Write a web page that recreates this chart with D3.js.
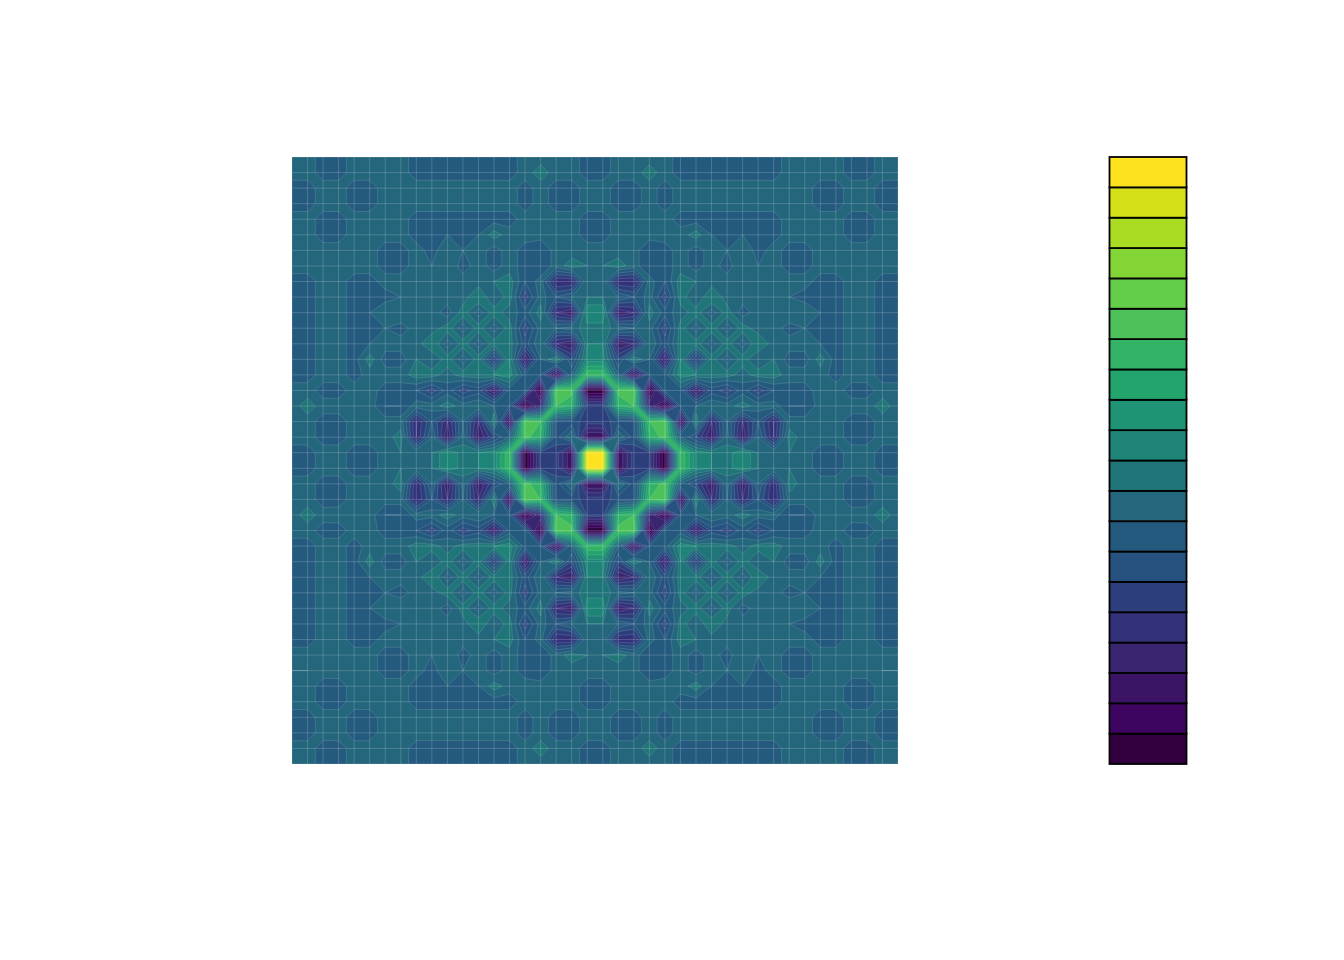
<!DOCTYPE html>
<html>
<head>
<meta charset="utf-8">
<script src="https://cdn.jsdelivr.net/npm/d3@7"></script>
<style>html,body{margin:0;padding:0;background:#fff}svg{display:block}</style>
</head>
<body>
<svg id="chart" width="1344" height="960"></svg>
<script>
const bandColors = ["#320040","#3e0560","#3b1466","#3a2570","#33317a","#2c3f7c","#27527f","#245a7e","#24667c","#1f7578","#1d8477","#1f9474","#23a46c","#33b365","#4dc25a","#64cd4a","#82d535","#aadc24","#d5e019","#fde31f"];
const levelBreaks = [2,4,6,8,10,12,14,16,18,20,22,24,26,28,30,32,34,36,38,40,42];
const gridValues = [
19,19,17,17,19,19,18,19,17,17,17,17,17,17,17,19,19,19,19,17,17,19,19,19,19,17,17,17,17,17,17,17,19,18,19,19,17,17,19,19,
19,19,17,17,19,19,18,19,17,17,17,17,17,17,17,19,21,19,19,17,17,19,19,21,19,17,17,17,17,17,17,17,19,18,19,19,17,17,19,19,
17,17,19,19,17,17,19,19,19,19,19,19,19,19,19,17,19,17,17,19,19,17,17,19,17,19,19,19,19,19,19,19,19,19,17,17,19,19,17,17,
17,17,19,19,17,17,19,18,19,19,19,19,19,19,19,17,19,17,17,19,19,17,17,19,17,19,19,19,19,19,19,19,18,19,17,17,19,19,17,17,
19,19,17,17,19,19,18,19,17,17,17,17,17,17,17,19,19,19,19,17,17,19,19,19,19,17,17,17,17,17,17,17,19,18,19,19,17,17,19,19,
19,19,17,17,19,19,19,19,17,17,18,17,18,21,19,19,19,19,19,17,17,19,19,19,19,19,21,18,17,18,17,17,19,19,19,19,17,17,19,19,
18,18,19,19,18,19,17,17,19,17,20,18,19,17,19,17,16,19,19,19,19,19,19,16,17,19,17,19,18,20,17,19,17,17,19,18,19,19,18,18,
19,19,19,18,19,19,17,17,19,18,20,17,19,17,19,17,16,19,21,20,20,21,19,16,17,19,17,19,17,20,18,19,17,17,19,19,18,19,19,19,
17,17,19,19,17,17,19,19,19,19,19,19,19,20,21,16,19,10,10,20,20,10,10,19,16,21,20,19,19,19,19,19,19,19,17,17,19,19,17,17,
17,17,19,19,17,17,17,18,19,19,19,19,22,18,21,13,19,16,18,20,20,18,16,19,13,21,18,22,19,19,19,19,18,17,17,17,19,19,17,17,
17,17,19,19,17,18,20,20,19,19,17,21,17,21,19,17,21,10,8,24,24,8,10,21,17,19,21,17,21,17,19,19,20,20,18,17,19,19,17,17,
17,17,19,19,17,17,18,17,19,19,21,17,21,17,21,13,19,18,19,21,21,19,18,19,13,21,17,21,17,21,19,19,17,18,17,17,19,19,17,17,
17,17,19,19,17,18,19,19,19,22,17,21,17,21,21,15,20,10,8,22,22,8,10,20,15,21,21,17,21,17,22,19,19,19,18,17,19,19,17,17,
17,17,19,19,17,21,17,17,20,18,21,17,21,12,22,8,18,22,14,23,23,14,22,18,8,22,12,21,17,21,18,20,17,17,21,17,19,19,17,17,
17,17,19,19,17,19,19,19,21,21,19,21,21,22,23,17,16,6,18,30,30,18,6,16,17,23,22,21,21,19,21,21,19,19,19,17,19,19,17,17,
19,19,17,17,19,19,17,17,16,13,17,13,15,8,17,17,3,32,31,2,2,31,32,3,17,17,8,15,13,17,13,16,17,17,19,19,17,17,19,19,
19,21,19,19,19,19,16,16,19,19,21,19,20,18,16,3,10,30,28,13,13,28,30,10,3,16,18,20,19,21,19,19,16,16,19,19,19,19,21,19,
19,19,17,17,19,19,19,19,10,16,10,18,10,22,6,32,30,15,15,13,13,15,15,30,32,6,22,10,18,10,16,10,19,19,19,19,17,17,19,19,
19,19,17,17,19,19,19,21,10,18,8,19,8,14,18,31,28,15,20,6,6,20,15,28,31,18,14,8,19,8,18,10,21,19,19,19,17,17,19,19,
17,17,19,19,17,17,19,20,20,20,24,21,22,23,30,2,13,13,6,41,41,6,13,13,2,30,23,22,21,24,20,20,20,19,17,17,19,19,17,17,
17,17,19,19,17,17,19,20,20,20,24,21,22,23,30,2,13,13,6,41,41,6,13,13,2,30,23,22,21,24,20,20,20,19,17,17,19,19,17,17,
19,19,17,17,19,19,19,21,10,18,8,19,8,14,18,31,28,15,20,6,6,20,15,28,31,18,14,8,19,8,18,10,21,19,19,19,17,17,19,19,
19,19,17,17,19,19,19,19,10,16,10,18,10,22,6,32,30,15,15,13,13,15,15,30,32,6,22,10,18,10,16,10,19,19,19,19,17,17,19,19,
19,21,19,19,19,19,16,16,19,19,21,19,20,18,16,3,10,30,28,13,13,28,30,10,3,16,18,20,19,21,19,19,16,16,19,19,19,19,21,19,
19,19,17,17,19,19,17,17,16,13,17,13,15,8,17,17,3,32,31,2,2,31,32,3,17,17,8,15,13,17,13,16,17,17,19,19,17,17,19,19,
17,17,19,19,17,19,19,19,21,21,19,21,21,22,23,17,16,6,18,30,30,18,6,16,17,23,22,21,21,19,21,21,19,19,19,17,19,19,17,17,
17,17,19,19,17,21,17,17,20,18,21,17,21,12,22,8,18,22,14,23,23,14,22,18,8,22,12,21,17,21,18,20,17,17,21,17,19,19,17,17,
17,17,19,19,17,18,19,19,19,22,17,21,17,21,21,15,20,10,8,22,22,8,10,20,15,21,21,17,21,17,22,19,19,19,18,17,19,19,17,17,
17,17,19,19,17,17,18,17,19,19,21,17,21,17,21,13,19,18,19,21,21,19,18,19,13,21,17,21,17,21,19,19,17,18,17,17,19,19,17,17,
17,17,19,19,17,18,20,20,19,19,17,21,17,21,19,17,21,10,8,24,24,8,10,21,17,19,21,17,21,17,19,19,20,20,18,17,19,19,17,17,
17,17,19,19,17,17,17,18,19,19,19,19,22,18,21,13,19,16,18,20,20,18,16,19,13,21,18,22,19,19,19,19,18,17,17,17,19,19,17,17,
17,17,19,19,17,17,19,19,19,19,19,19,19,20,21,16,19,10,10,20,20,10,10,19,16,21,20,19,19,19,19,19,19,19,17,17,19,19,17,17,
19,19,19,18,19,19,17,17,19,18,20,17,19,17,19,17,16,19,21,20,20,21,19,16,17,19,17,19,17,20,18,19,17,17,19,19,18,19,19,19,
18,18,19,19,18,19,17,17,19,17,20,18,19,17,19,17,16,19,19,19,19,19,19,16,17,19,17,19,18,20,17,19,17,17,19,18,19,19,18,18,
19,19,17,17,19,19,19,19,17,17,18,17,18,21,19,19,19,19,19,17,17,19,19,19,19,19,21,18,17,18,17,17,19,19,19,19,17,17,19,19,
19,19,17,17,19,19,18,19,17,17,17,17,17,17,17,19,19,19,19,17,17,19,19,19,19,17,17,17,17,17,17,17,19,18,19,19,17,17,19,19,
17,17,19,19,17,17,19,18,19,19,19,19,19,19,19,17,19,17,17,19,19,17,17,19,17,19,19,19,19,19,19,19,18,19,17,17,19,19,17,17,
17,17,19,19,17,17,19,19,19,19,19,19,19,19,19,17,19,17,17,19,19,17,17,19,17,19,19,19,19,19,19,19,19,19,17,17,19,19,17,17,
19,19,17,17,19,19,18,19,17,17,17,17,17,17,17,19,21,19,19,17,17,19,19,21,19,17,17,17,17,17,17,17,19,18,19,19,17,17,19,19,
19,19,17,17,19,19,18,19,17,17,17,17,17,17,17,19,19,19,19,17,17,19,19,19,19,17,17,17,17,17,17,17,19,18,19,19,17,17,19,19
];
const gridSize = 40;

const svg = d3.select("#chart");
const x = d3.scaleLinear().domain([0.5, gridSize - 0.5]).range([292, 898]);
const y = d3.scaleLinear().domain([0.5, gridSize - 0.5]).range([157, 764]);
const legendY = d3.scaleLinear().domain([0, 20]).range([764, 157]);
const legendX = d3.scaleLinear().domain([0, 1]).range([1109.5, 1186.5]);

svg.append("defs").append("clipPath").attr("id", "plotClip")
  .append("rect").attr("x", x(0.5)).attr("y", y(0.5))
  .attr("width", x(gridSize - 0.5) - x(0.5)).attr("height", y(gridSize - 0.5) - y(0.5));

const path = d3.geoPath(d3.geoTransform({
  point(px, py) { this.stream.point(x(px), y(py)); }
}));

// Bands are painted from the top level down, each as the region at or below its upper break,
// so that ridges stay connected across saddle cells.
const innerBreaks = levelBreaks.slice(1, -1).reverse();
const contours = d3.contours().size([gridSize, gridSize])
  .thresholds(innerBreaks.map(b => -b))(gridValues.map(v => -v));
const plot = svg.append("g").attr("clip-path", "url(#plotClip)");

plot.append("rect").attr("x", x(0.5)).attr("y", y(0.5))
  .attr("width", x(gridSize - 0.5) - x(0.5)).attr("height", y(gridSize - 0.5) - y(0.5))
  .attr("fill", bandColors[bandColors.length - 1]);

plot.selectAll("path.band").data(contours).join("path")
  .attr("class", "band")
  .attr("d", path)
  .attr("fill", (d, i) => bandColors[bandColors.length - 2 - i])
  .attr("stroke", "#d8e8f0")
  .attr("stroke-opacity", 0.3)
  .attr("stroke-width", 0.5);

const nodes = d3.range(gridSize).map(i => i + 0.5);
plot.selectAll("line.vgrid").data(nodes).join("line")
  .attr("class", "vgrid")
  .attr("x1", d => x(d)).attr("x2", d => x(d))
  .attr("y1", y(0.5)).attr("y2", y(gridSize - 0.5))
  .attr("stroke", "#ffffff").attr("stroke-opacity", 0.26).attr("stroke-width", 0.7);
plot.selectAll("line.hgrid").data(nodes).join("line")
  .attr("class", "hgrid")
  .attr("y1", d => y(d)).attr("y2", d => y(d))
  .attr("x1", x(0.5)).attr("x2", x(gridSize - 0.5))
  .attr("stroke", "#ffffff").attr("stroke-opacity", 0.26).attr("stroke-width", 0.7);

svg.append("g").selectAll("rect").data(bandColors).join("rect")
  .attr("x", legendX(0))
  .attr("width", legendX(1) - legendX(0))
  .attr("y", (d, i) => legendY(i + 1))
  .attr("height", (d, i) => legendY(i) - legendY(i + 1))
  .attr("fill", d => d)
  .attr("stroke", "#000000")
  .attr("stroke-width", 1.8);
</script>
</body>
</html>
